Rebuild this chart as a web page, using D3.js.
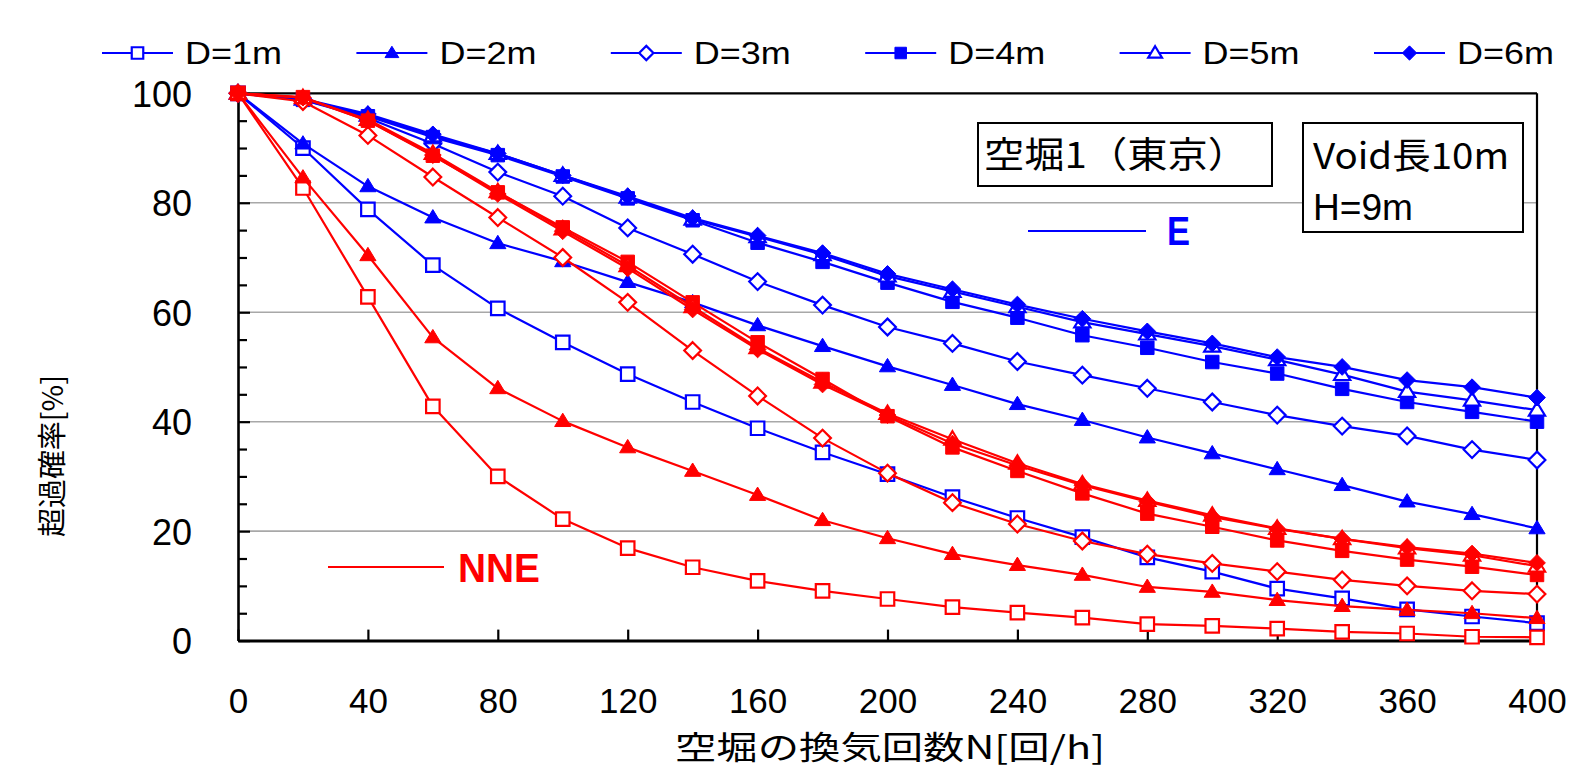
<!DOCTYPE html>
<html>
<head>
<meta charset="utf-8">
<script src="https://cdn.jsdelivr.net/npm/d3@7"></script>
<style>
  html, body { margin: 0; padding: 0; background: #fff; }
  svg { display: block; }
  text { font-family: "Liberation Sans", Arial, sans-serif; }
  .jp { font-family: "Noto Sans CJK JP", "Noto Sans CJK SC", sans-serif; }
</style>
</head>
<body>
<svg id="chart" width="1573" height="772"></svg>
<script>
// ---------------- DATA ----------------
const xValues = [0,20,40,60,80,100,120,140,160,180,200,220,240,260,280,300,320,340,360,380,400];
const xTicks = [0,40,80,120,160,200,240,280,320,360,400];
const yTicks = [0,20,40,60,80,100];
const yMinorTicks = [5,10,15,25,30,35,45,50,55,65,70,75,85,90,95];
const gridValues = [20,40,60,80];
const seriesNames = ["D=1m","D=2m","D=3m","D=4m","D=5m","D=6m"];
const markerTypes = ["squareOpen","triangleFilled","diamondOpen","squareFilled","triangleOpen","diamondFilled"];

// E direction (blue)
const eD1 = [100,90.0,78.8,68.6,60.7,54.5,48.7,43.6,38.8,34.4,30.4,26.2,22.4,18.9,15.2,12.6,9.5,7.7,5.7,4.4,3.2];
const eD2 = [100,90.8,83.0,77.3,72.6,69.3,65.5,61.8,57.6,53.8,50.1,46.7,43.2,40.3,37.1,34.2,31.3,28.4,25.4,23.1,20.5];
const eD3 = [100,98.8,95.5,90.8,85.6,81.2,75.4,70.6,65.6,61.3,57.3,54.3,51.0,48.5,46.1,43.6,41.2,39.2,37.4,34.9,33.0];
const eD4 = [100,98.8,95.8,92.0,88.7,84.8,80.8,76.8,72.7,69.2,65.4,61.9,59.0,55.8,53.5,50.9,48.8,46.0,43.6,41.8,40.0];
const eD5 = [100,98.9,96.0,92.2,89.0,85.0,81.0,77.0,73.8,70.5,66.6,63.8,61.0,58.2,56.0,53.8,51.3,48.6,45.5,43.9,42.1];
const eD6 = [100,99.0,96.2,92.5,89.0,85.0,81.2,77.2,74.0,70.8,67.0,64.2,61.4,58.8,56.5,54.3,51.8,50.0,47.6,46.3,44.4];

// NNE direction (red)
const nD1 = [100,82.7,62.8,42.8,30.0,22.2,16.9,13.4,10.9,9.1,7.6,6.1,5.1,4.2,3.0,2.7,2.2,1.6,1.3,0.7,0.6];
const nD2 = [100,84.6,70.4,55.4,46.1,40.1,35.3,31.0,26.6,22.0,18.7,15.8,13.8,12.0,9.8,8.9,7.4,6.3,5.6,5.0,4.1];
const nD3 = [100,98.5,92.3,84.7,77.3,70.0,61.8,53.0,44.7,37.0,30.6,25.2,21.3,18.2,15.8,14.1,12.6,11.1,10.0,9.1,8.5];
const nD4 = [100,99.3,95.0,88.6,81.9,75.5,69.2,61.8,54.5,47.8,41.0,35.3,31.0,26.9,23.2,20.8,18.3,16.4,14.8,13.5,12.0];
const nD5 = [100,99.2,95.2,89.0,82.0,75.2,68.5,61.0,53.5,47.2,41.5,36.8,32.4,28.6,25.6,22.9,20.5,18.6,16.9,15.6,13.6];
const nD6 = [100,99.2,95.0,88.7,81.6,74.8,68.0,60.5,53.2,46.8,41.2,36.0,32.0,28.4,25.4,22.6,20.4,18.6,17.1,15.9,14.2];

const eSeries = [eD1,eD2,eD3,eD4,eD5,eD6];
const nSeries = [nD1,nD2,nD3,nD4,nD5,nD6];

// ---------------- LAYOUT ----------------
const BLUE = "#0000ff", RED = "#ff0000";
const plot = { left: 238, right: 1537, top: 93.3, bottom: 640.6 };
const svg = d3.select("#chart");

const x = d3.scaleLinear().domain([0, 400]).range([plot.left, plot.right]);
const y = d3.scaleLinear().domain([0, 100]).range([plot.bottom, plot.top]);

// gridlines
svg.append("g").selectAll("line").data(gridValues).join("line")
  .attr("x1", plot.left).attr("x2", plot.right)
  .attr("y1", d => y(d)).attr("y2", d => y(d))
  .attr("stroke", "#a8a8a8").attr("stroke-width", 1.6);

// frame top/right
svg.append("line").attr("x1", plot.left).attr("x2", plot.right)
  .attr("y1", plot.top).attr("y2", plot.top).attr("stroke", "#000").attr("stroke-width", 2.2);
svg.append("line").attr("x1", plot.right).attr("x2", plot.right)
  .attr("y1", plot.top).attr("y2", plot.bottom).attr("stroke", "#000").attr("stroke-width", 2.2);

// y minor ticks
const yMinor = svg.append("g").attr("transform", `translate(${plot.left},0)`)
  .call(d3.axisLeft(y).tickValues(yMinorTicks).tickSizeInner(-9).tickSizeOuter(0).tickFormat(""));
yMinor.select(".domain").remove();
yMinor.selectAll("line").attr("stroke", "#000").attr("stroke-width", 2.2);

// y major axis
const yAxis = svg.append("g").attr("transform", `translate(${plot.left},0)`)
  .call(d3.axisLeft(y).tickValues(yTicks).tickSizeInner(-12).tickSizeOuter(0).tickPadding(46));
yAxis.select(".domain").attr("stroke", "#000").attr("stroke-width", 2.6);
yAxis.selectAll("line").attr("stroke", "#000").attr("stroke-width", 2.2);
yAxis.selectAll("text").attr("font-size", 36).attr("fill", "#000")
  .attr("font-family", "Liberation Sans, Arial, sans-serif").attr("dy", "0.36em");

// x axis
const xAxis = svg.append("g").attr("transform", `translate(0,${plot.bottom})`)
  .call(d3.axisBottom(x).tickValues(xTicks).tickSizeInner(-11).tickSizeOuter(0).tickPadding(48));
xAxis.select(".domain").attr("stroke", "#000").attr("stroke-width", 3);
xAxis.selectAll("line").attr("stroke", "#000").attr("stroke-width", 2.2);
xAxis.selectAll("text").attr("font-size", 35).attr("fill", "#000")
  .attr("font-family", "Liberation Sans, Arial, sans-serif");

// ---------------- MARKERS ----------------
function markerPath(type, s) {
  const p = d3.path();
  if (type.startsWith("square")) {
    p.rect(-s / 2, -s / 2, s, s);
  } else if (type.startsWith("triangle")) {
    const h = s * 0.95;
    p.moveTo(0, -h * 0.62); p.lineTo(s * 0.6, h * 0.42); p.lineTo(-s * 0.6, h * 0.42); p.closePath();
  } else {
    const r = s * 0.62;
    p.moveTo(0, -r); p.lineTo(r, 0); p.lineTo(0, r); p.lineTo(-r, 0); p.closePath();
  }
  return p.toString();
}
function drawMarker(g, type, color, size) {
  const filled = type.endsWith("Filled");
  g.append("path").attr("d", markerPath(type, size))
    .attr("fill", filled ? color : "#fff")
    .attr("stroke", color)
    .attr("stroke-width", filled ? 1 : 2.2);
}

const line = d3.line().x((d, i) => x(xValues[i])).y(d => y(d));

function drawSeries(values, color, type) {
  const g = svg.append("g");
  g.append("path").datum(values).attr("d", line)
    .attr("fill", "none").attr("stroke", color).attr("stroke-width", 2.2)
    .attr("stroke-linejoin", "round");
  values.forEach((v, i) => {
    const mg = g.append("g").attr("transform", `translate(${x(xValues[i])},${y(v)})`);
    drawMarker(mg, type, color, 13.5);
  });
}
eSeries.forEach((s, i) => drawSeries(s, BLUE, markerTypes[i]));
nSeries.forEach((s, i) => drawSeries(s, RED, markerTypes[i]));

// ---------------- LEGEND ----------------
const legendY = 53;
seriesNames.forEach((name, i) => {
  const x0 = 102 + i * 254.4;
  const g = svg.append("g");
  g.append("line").attr("x1", x0).attr("x2", x0 + 71).attr("y1", legendY).attr("y2", legendY)
    .attr("stroke", BLUE).attr("stroke-width", 2.2);
  const mg = g.append("g").attr("transform", `translate(${x0 + 35.5},${legendY})`);
  drawMarker(mg, markerTypes[i], BLUE, 11.5);
  g.append("text").attr("x", x0 + 83).attr("y", legendY + 11)
    .attr("font-size", 31).attr("fill", "#000")
    .attr("textLength", 97).attr("lengthAdjust", "spacingAndGlyphs")
    .text(name);
});

// ---------------- ANNOTATIONS ----------------
svg.append("rect").attr("x", 978).attr("y", 123).attr("width", 294).attr("height", 63)
  .attr("fill", "#fff").attr("stroke", "#000").attr("stroke-width", 2);
svg.append("text").attr("class", "jp").attr("x", 984).attr("y", 168)
  .attr("font-size", 36).attr("fill", "#000")
  .attr("textLength", 264).attr("lengthAdjust", "spacingAndGlyphs")
  .text("空堀1（東京）");

svg.append("rect").attr("x", 1303).attr("y", 123).attr("width", 220).attr("height", 109)
  .attr("fill", "#fff").attr("stroke", "#000").attr("stroke-width", 2);
svg.append("text").attr("class", "jp").attr("x", 1313).attr("y", 169)
  .attr("font-size", 36).attr("fill", "#000")
  .attr("textLength", 196).attr("lengthAdjust", "spacingAndGlyphs")
  .text("Void長10m");
svg.append("text").attr("x", 1313).attr("y", 220)
  .attr("font-size", 37).attr("fill", "#000")
  .attr("textLength", 100).attr("lengthAdjust", "spacingAndGlyphs")
  .text("H=9m");

// direction labels
svg.append("line").attr("x1", 1028).attr("x2", 1146).attr("y1", 231).attr("y2", 231)
  .attr("stroke", BLUE).attr("stroke-width", 2.2);
svg.append("text").attr("x", 1167).attr("y", 245).attr("font-size", 40).attr("font-weight", "bold")
  .attr("fill", BLUE).attr("textLength", 23).attr("lengthAdjust", "spacingAndGlyphs").text("E");

svg.append("line").attr("x1", 328).attr("x2", 444).attr("y1", 567).attr("y2", 567)
  .attr("stroke", RED).attr("stroke-width", 2.2);
svg.append("text").attr("x", 458).attr("y", 582).attr("font-size", 40).attr("font-weight", "bold")
  .attr("fill", RED).attr("textLength", 82).attr("lengthAdjust", "spacingAndGlyphs").text("NNE");

// axis titles
svg.append("text").attr("class", "jp").attr("x", 890).attr("y", 759)
  .attr("text-anchor", "middle").attr("font-size", 32).attr("fill", "#000")
  .attr("textLength", 430).attr("lengthAdjust", "spacingAndGlyphs")
  .text("空堀の換気回数N[回/h]");

svg.append("text").attr("class", "jp")
  .attr("transform", "translate(63,456) rotate(-90)")
  .attr("text-anchor", "middle").attr("font-size", 29).attr("fill", "#000")
  .attr("textLength", 162).attr("lengthAdjust", "spacingAndGlyphs")
  .text("超過確率[%]");
</script>
</body>
</html>
